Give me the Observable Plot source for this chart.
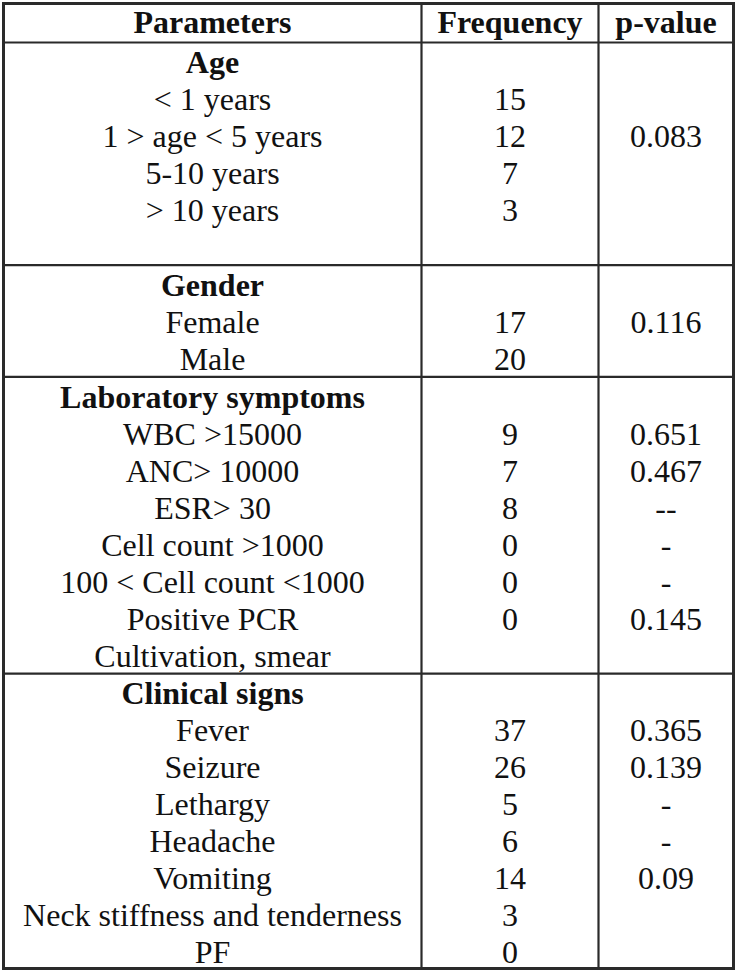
<!DOCTYPE html>
<html>
<head>
<meta charset="utf-8">
<script src="https://cdn.jsdelivr.net/npm/d3@7"></script>
<script src="https://cdn.jsdelivr.net/npm/@observablehq/plot@0.6"></script>
<style>
  html, body { margin: 0; padding: 0; background: #fff; }
  svg { display: block; }
  svg text { font-family: "Liberation Serif", "Times New Roman", Tinos, "DejaVu Serif", serif; }
</style>
</head>
<body>
<div id="chart"></div>
<script>
// ---- data ----
const headers = ["Parameters", "Frequency", "p-value"];
const sectionTitles = ["Age", "Gender", "Laboratory symptoms", "Clinical signs"];

const ageLabels = ["< 1 years", "1 > age < 5 years", "5-10 years", "> 10 years"];
const ageFreq = ["15", "12", "7", "3"];
const agePvals = ["", "0.083", "", ""];

const genderLabels = ["Female", "Male"];
const genderFreq = ["17", "20"];
const genderPvals = ["0.116", ""];

const labLabels = ["WBC >15000", "ANC> 10000", "ESR> 30", "Cell count >1000", "100 < Cell count <1000", "Positive PCR", "Cultivation, smear"];
const labFreq = ["9", "7", "8", "0", "0", "0", ""];
const labPvals = ["0.651", "0.467", "--", "-", "-", "0.145", ""];

const clinLabels = ["Fever", "Seizure", "Lethargy", "Headache", "Vomiting", "Neck stiffness and tenderness", "PF"];
const clinFreq = ["37", "26", "5", "6", "14", "3", "0"];
const clinPvals = ["0.365", "0.139", "-", "-", "0.09", "", ""];

// ---- layout (row units and column units) ----
const layout = {
  colEdges: [0, 418, 595, 730],
  top: -1.054, bottom: 25.03,
  headerY: -0.54,
  titleOffset: 0.55,
  dividerOffset: 0.47,
  blankRows: [1, 0, 0, 0]
};

const sections = [
  {title: sectionTitles[0], labels: ageLabels, freq: ageFreq, p: agePvals},
  {title: sectionTitles[1], labels: genderLabels, freq: genderFreq, p: genderPvals},
  {title: sectionTitles[2], labels: labLabels, freq: labFreq, p: labPvals},
  {title: sectionTitles[3], labels: clinLabels, freq: clinFreq, p: clinPvals}
];

const colCenter = i => (layout.colEdges[i] + layout.colEdges[i + 1]) / 2;

const cells = [];
const dividers = [0];
let cursor = 0;
sections.forEach((s, si) => {
  const ty = cursor + layout.titleOffset;
  cells.push({col: 0, y: ty, text: s.title, bold: true});
  s.labels.forEach((lab, i) => {
    const ry = ty + 1 + i;
    cells.push({col: 0, y: ry, text: lab, bold: false});
    if (s.freq[i] !== "") cells.push({col: 1, y: ry, text: s.freq[i], bold: false});
    if (s.p[i] !== "") cells.push({col: 2, y: ry, text: s.p[i], bold: false});
  });
  const last = ty + s.labels.length + layout.blankRows[si];
  cursor = last + layout.dividerOffset;
  if (si < sections.length - 1) dividers.push(cursor);
});
headers.forEach((h, i) => cells.push({col: i, y: layout.headerY, text: h, bold: true}));

const font = "Liberation Serif, Times New Roman, Tinos, DejaVu Serif, serif";
const textOpts = (bold) => ({
  x: d => colCenter(d.col),
  y: "y",
  text: "text",
  fontFamily: font,
  fontSize: 32,
  fontWeight: bold ? "bold" : "normal",
  fill: "#111",
  textAnchor: "middle",
  lineAnchor: "middle"
});

const chart = Plot.plot({
  width: 736,
  height: 971,
  marginTop: 3, marginBottom: 3, marginLeft: 3, marginRight: 3,
  x: {domain: [layout.colEdges[0], layout.colEdges[3]], axis: null},
  y: {domain: [layout.top, layout.bottom], reverse: true, axis: null},
  style: {background: "#fff", overflow: "visible", fontFamily: font},
  marks: [
    Plot.ruleY(dividers, {y: d => d, x1: layout.colEdges[0], x2: layout.colEdges[3], stroke: "#2a2a2a", strokeWidth: 2.2}),
    Plot.ruleX(layout.colEdges.slice(1, 3), {x: d => d, y1: layout.top, y2: layout.bottom, stroke: "#2a2a2a", strokeWidth: 2.2}),
    Plot.frame({stroke: "#2a2a2a", strokeWidth: 3}),
    Plot.text(cells.filter(d => d.bold), textOpts(true)),
    Plot.text(cells.filter(d => !d.bold), textOpts(false))
  ]
});
document.getElementById("chart").appendChild(chart);
</script>
</body>
</html>
